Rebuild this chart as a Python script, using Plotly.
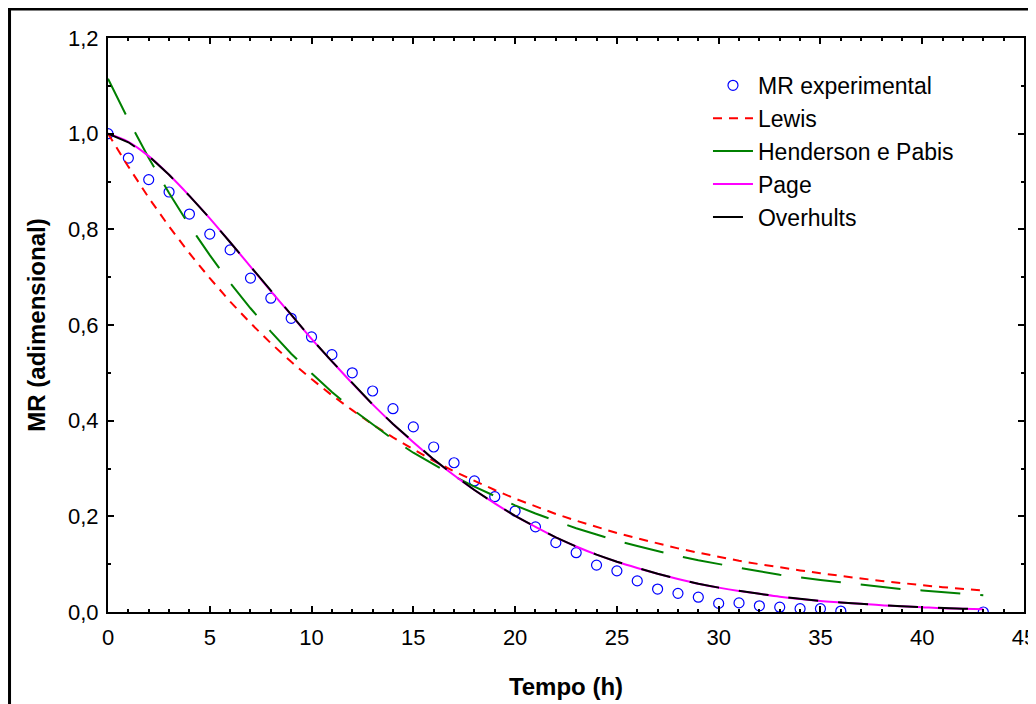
import plotly.graph_objects as go

# ---- data ----
t_exp = list(range(0, 37)) + [43]
mr_exp = [1.000, 0.949, 0.904, 0.878, 0.832, 0.790, 0.757, 0.698, 0.656, 0.614,
          0.575, 0.538, 0.500, 0.462, 0.425, 0.387, 0.345, 0.312, 0.274, 0.241,
          0.211, 0.178, 0.145, 0.124, 0.098, 0.086, 0.065, 0.048, 0.039, 0.031,
          0.018, 0.019, 0.013, 0.010, 0.007, 0.007, 0.002, 0.000]

t_model = list(range(0, 44))
mr_lewis = [1.000, 0.931, 0.866, 0.806, 0.750, 0.698, 0.649, 0.604, 0.562, 0.523,
            0.487, 0.453, 0.422, 0.392, 0.365, 0.340, 0.316, 0.294, 0.274, 0.255,
            0.237, 0.221, 0.205, 0.191, 0.178, 0.165, 0.154, 0.143, 0.133, 0.124,
            0.115, 0.107, 0.100, 0.093, 0.087, 0.081, 0.075, 0.070, 0.065, 0.060,
            0.056, 0.052, 0.049, 0.045]
mr_henderson = [1.115, 1.029, 0.949, 0.876, 0.808, 0.746, 0.688, 0.635, 0.586, 0.540,
                0.499, 0.460, 0.424, 0.392, 0.361, 0.333, 0.308, 0.284, 0.262, 0.242,
                0.223, 0.206, 0.190, 0.175, 0.162, 0.149, 0.138, 0.127, 0.117, 0.108,
                0.100, 0.092, 0.085, 0.078, 0.072, 0.067, 0.062, 0.057, 0.052, 0.048,
                0.045, 0.041, 0.038, 0.035]
mr_page = [1.000, 0.983, 0.953, 0.914, 0.870, 0.823, 0.773, 0.722, 0.671, 0.621,
           0.571, 0.524, 0.478, 0.434, 0.393, 0.355, 0.319, 0.286, 0.255, 0.227,
           0.201, 0.178, 0.156, 0.137, 0.120, 0.105, 0.092, 0.080, 0.069, 0.059,
           0.051, 0.044, 0.038, 0.032, 0.027, 0.023, 0.020, 0.017, 0.014, 0.012,
           0.010, 0.008, 0.007, 0.006]
mr_overhults = [1.000, 0.982, 0.953, 0.914, 0.870, 0.823, 0.773, 0.722, 0.671, 0.621,
                0.571, 0.524, 0.478, 0.434, 0.393, 0.355, 0.319, 0.286, 0.255, 0.227,
                0.201, 0.178, 0.156, 0.137, 0.120, 0.105, 0.092, 0.080, 0.069, 0.059,
                0.051, 0.044, 0.038, 0.032, 0.027, 0.023, 0.020, 0.017, 0.014, 0.012,
                0.010, 0.008, 0.007, 0.006]

FONT = "Liberation Sans, Arial, sans-serif"

fig = go.Figure()
fig.add_trace(go.Scatter(x=t_exp, y=mr_exp, mode="markers", name="MR experimental",
                         marker=dict(symbol="circle-open", size=10, color="#0000ff",
                                     line=dict(width=1.2, color="#0000ff"))))
fig.add_trace(go.Scatter(x=t_model, y=mr_lewis, mode="lines", name="Lewis",
                         line=dict(color="#ff0000", width=2, dash="9px,7px")))
fig.add_trace(go.Scatter(x=t_model, y=mr_henderson, mode="lines", name="Henderson e Pabis",
                         line=dict(color="#008000", width=2, dash="40px,20px")))
fig.add_trace(go.Scatter(x=t_model, y=mr_page, mode="lines", name="Page",
                         line=dict(color="#ff00ff", width=2, shape="spline")))
fig.add_trace(go.Scatter(x=t_model, y=mr_overhults, mode="lines", name="Overhults",
                         line=dict(color="#000000", width=2, dash="30px,20px")))

axis_common = dict(showline=True, linecolor="black", linewidth=2, mirror="allticks",
                   ticks="inside", ticklen=6, tickwidth=2, tickcolor="black",
                   showgrid=False, zeroline=False, automargin=False,
                   ticklabeloverflow="allow",
                   tickfont=dict(family=FONT, size=22, color="black"))

fig.update_xaxes(range=[0, 45], dtick=5, tick0=0, ticklabelstandoff=5,
                 minor=dict(ticks="inside", ticklen=3, dtick=1, tickcolor="black", tickwidth=1.5),
                 title=dict(text="<b>Tempo (h)</b>", font=dict(family=FONT, size=24, color="black"),
                            standoff=29),
                 **axis_common)
fig.update_yaxes(range=[0, 1.2], dtick=0.2, tick0=0, tickformat=".1f", ticklabelstandoff=3,
                 minor=dict(ticks="inside", ticklen=3, dtick=0.1, tickcolor="black", tickwidth=1.5),
                 title=dict(text="<b>MR (adimensional)</b>", font=dict(family=FONT, size=24, color="black"),
                            standoff=16),
                 **axis_common)

fig.add_shape(type="rect", xref="paper", yref="paper",
              x0=-0.1075, x1=1.03, y0=-0.18, y1=1.0505,
              line=dict(color="black", width=3), fillcolor="rgba(0,0,0,0)", layer="above")

fig.update_layout(
    width=1028, height=696,
    margin=dict(l=100, r=12, t=30, b=92, autoexpand=False),
    paper_bgcolor="white", plot_bgcolor="white",
    separators=",.",
    showlegend=True,
    legend=dict(x=0.655, y=0.955, xanchor="left", yanchor="top",
                bgcolor="rgba(0,0,0,0)", borderwidth=0,
                font=dict(family=FONT, size=23, color="black"),
                itemwidth=40, tracegroupgap=0),
    font=dict(family=FONT, color="black"),
)

fig.write_html("out.html")
